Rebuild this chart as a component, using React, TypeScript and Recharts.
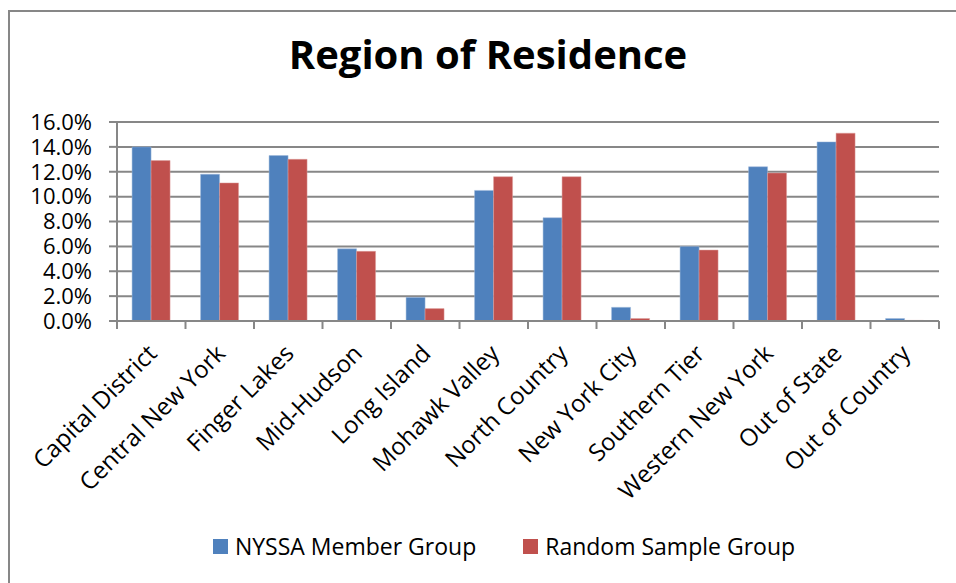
import React from 'react';
import { BarChart, Bar, XAxis, YAxis, CartesianGrid, Legend } from 'recharts';

const categories = [
  'Capital District', 'Central New York', 'Finger Lakes', 'Mid-Hudson', 'Long Island',
  'Mohawk Valley', 'North Country', 'New York City', 'Southern Tier', 'Western New York',
  'Out of State', 'Out of Country',
];
const nyssaMember = [14.0, 11.8, 13.3, 5.8, 1.9, 10.5, 8.3, 1.1, 6.0, 12.4, 14.4, 0.2];
const randomSample = [12.9, 11.1, 13.0, 5.6, 1.0, 11.6, 11.6, 0.2, 5.7, 11.9, 15.1, 0.05];
const yTicks = [0, 2, 4, 6, 8, 10, 12, 14, 16];
const seriesNames = ['NYSSA Member Group', 'Random Sample Group'];

const data = categories.map((c, i) => ({ name: c, a: nyssaMember[i], b: randomSample[i] }));

const BLUE = '#4F81BD';
const RED = '#C0504D';
const GRID = '#878787';
const FONT = '"Open Sans", Lato, sans-serif';

const XTick = (props: any) => {
  const { x, y, payload, index, width } = props;
  const band = (width ?? 822) / categories.length;
  const left = x - band / 2;
  const ax = x + 7;
  const ay = y + 34;
  return (
    <g>
      <line x1={left} y1={y} x2={left} y2={y + 8} stroke={GRID} strokeWidth={2} />
      {index === categories.length - 1 && (
        <line x1={left + band} y1={y} x2={left + band} y2={y + 8} stroke={GRID} strokeWidth={2} />
      )}
      <text
        x={ax}
        y={ay}
        textAnchor="end"
        fontSize={24}
        fontFamily={FONT}
        fill="#000"
        transform={`rotate(-45 ${ax} ${ay})`}
      >
        {payload.value}
      </text>
    </g>
  );
};

const LegendContent = () => (
  <div style={{ display: 'flex', justifyContent: 'center', fontFamily: FONT, fontSize: 23, color: '#000' }}>
    {seriesNames.map((n, i) => (
      <div key={n} style={{ display: 'flex', alignItems: 'center', marginRight: i === 0 ? 47 : 0 }}>
        <span style={{ width: 15, height: 15, background: i === 0 ? BLUE : RED, display: 'inline-block', marginRight: 7 }} />
        <span>{n}</span>
      </div>
    ))}
  </div>
);

export default function App() {
  return (
    <div
      style={{
        position: 'absolute',
        left: 8,
        top: 10,
        width: 946,
        height: 571,
        borderLeft: `2px solid ${GRID}`,
        borderTop: `2px solid ${GRID}`,
        background: '#fff',
      }}
    >
      <div
        style={{
          position: 'absolute',
          left: 0,
          top: 20,
          width: 956,
          textAlign: 'center',
          fontFamily: FONT,
          fontWeight: 700,
          fontSize: 40,
          lineHeight: '44px',
          color: '#000',
          zIndex: 2,
        }}
      >
        Region of Residence
      </div>
      <BarChart
        width={946}
        height={571}
        data={data}
        margin={{ top: 110, right: 17, left: 0, bottom: 0 }}
        barCategoryGap="22%"
        barGap={0}
      >
        <CartesianGrid vertical={false} stroke={GRID} strokeWidth={2} strokeDasharray="" />
        <XAxis
          dataKey="name"
          interval={0}
          height={262}
          tickSize={0}
          tickMargin={0}
          axisLine={{ stroke: GRID, strokeWidth: 2 }}
          tickLine={false}
          tick={<XTick />}
        />
        <YAxis
          width={107}
          domain={[0, 16]}
          ticks={yTicks}
          interval={0}
          tickSize={8}
          tickMargin={17}
          axisLine={{ stroke: GRID, strokeWidth: 2 }}
          tickLine={{ stroke: GRID, strokeWidth: 2 }}
          tick={{ fontSize: 22, fontFamily: FONT, fill: '#000' }}
          tickFormatter={(v: number) => `${v.toFixed(1)}%`}
        />
        <Legend
          layout="horizontal"
          verticalAlign="middle"
          wrapperStyle={{ position: 'absolute', top: 518, left: 21, width: 946 }}
          content={<LegendContent />}
        />
        <Bar dataKey="a" name={seriesNames[0]} fill={BLUE} stroke="#9EB8DA" strokeWidth={0.5} isAnimationActive={false} />
        <Bar dataKey="b" name={seriesNames[1]} fill={RED} stroke="#DC9E9C" strokeWidth={0.5} isAnimationActive={false} />
      </BarChart>
    </div>
  );
}
